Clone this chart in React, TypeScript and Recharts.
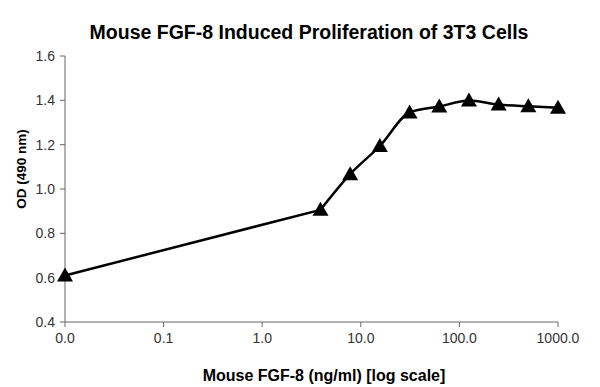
import { LineChart, Line, XAxis, YAxis } from 'recharts'

// FGF-8 dose (ng/ml); first point is the no-FGF control, plotted at 0.01
const doses = [0.01, 3.9, 7.8, 15.6, 31.25, 62.5, 125, 250, 500, 1000]
const od = [0.61, 0.906, 1.067, 1.194, 1.345, 1.372, 1.399, 1.381, 1.373, 1.367]

const xTicks = [0.01, 0.1, 1, 10, 100, 1000]
const yTicks = [0.4, 0.6, 0.8, 1.0, 1.2, 1.4, 1.6]

// control -> first dose is drawn straight, the dose curve is smoothed
const data = doses.map((d, i) => ({
  dose: d,
  od: od[i],
  ctrl: i <= 1 ? od[i] : null,
  curve: i >= 1 ? od[i] : null,
}))

const font = "'Liberation Sans', Arial, sans-serif"

const Triangle = (props: any) => {
  const { cx, cy, index } = props
  if (cx == null || cy == null) return <g key={index} />
  return (
    <path
      key={index}
      d={`M${cx},${cy - 8} L${cx + 8},${cy + 6} L${cx - 8},${cy + 6} Z`}
      fill="#000"
    />
  )
}

export default function App() {
  return (
    <div style={{ position: 'absolute', top: 0, left: 0, width: 600, height: 387, background: '#fff', fontFamily: font }}>
      <div
        style={{
          position: 'absolute', top: 21, left: 0, width: 618, textAlign: 'center',
          fontSize: 19.5, fontWeight: 'bold', color: '#000', whiteSpace: 'nowrap',
        }}
      >
        Mouse FGF-8 Induced Proliferation of 3T3 Cells
      </div>
      <div style={{ position: 'absolute', left: 21, top: 169, width: 0, height: 0 }}>
        <div
          style={{
            position: 'absolute', transform: 'translate(-50%, -50%) rotate(-90deg)',
            whiteSpace: 'nowrap', fontSize: 13.5, fontWeight: 'bold', color: '#000',
          }}
        >
          OD (490 nm)
        </div>
      </div>
      <div
        style={{
          position: 'absolute', top: 367, left: 0, width: 648, textAlign: 'center',
          fontSize: 16, fontWeight: 'bold', color: '#000', whiteSpace: 'nowrap',
        }}
      >
        Mouse FGF-8 (ng/ml) [log scale]
      </div>
      <LineChart
        width={600}
        height={387}
        data={data}
        margin={{ top: 56, right: 42, bottom: 0, left: 0 }}
      >
        <XAxis
          dataKey="dose"
          type="number"
          scale="log"
          domain={[0.01, 1000]}
          ticks={xTicks}
          tickFormatter={(v) => Number(v).toFixed(1)}
          tick={{ fontSize: 14, fill: '#333', fontFamily: font }}
          tickLine={{ stroke: '#666' }}
          tickSize={5}
          tickMargin={6}
          axisLine={{ stroke: '#666' }}
          height={65}
        />
        <YAxis
          type="number"
          domain={[0.4, 1.6]}
          ticks={yTicks}
          tickFormatter={(v) => Number(v).toFixed(1)}
          tick={{ fontSize: 14, fill: '#333', fontFamily: font }}
          tickLine={{ stroke: '#666' }}
          tickSize={5}
          tickMargin={5}
          axisLine={{ stroke: '#666' }}
          width={65}
        />
        <Line
          type="linear"
          dataKey="ctrl"
          stroke="#000"
          strokeWidth={2.5}
          dot={false}
          activeDot={false}
          isAnimationActive={false}
        />
        <Line
          type="monotone"
          dataKey="curve"
          stroke="#000"
          strokeWidth={2.5}
          dot={false}
          activeDot={false}
          isAnimationActive={false}
        />
        <Line
          dataKey="od"
          stroke="none"
          dot={Triangle}
          activeDot={false}
          isAnimationActive={false}
        />
      </LineChart>
    </div>
  )
}
